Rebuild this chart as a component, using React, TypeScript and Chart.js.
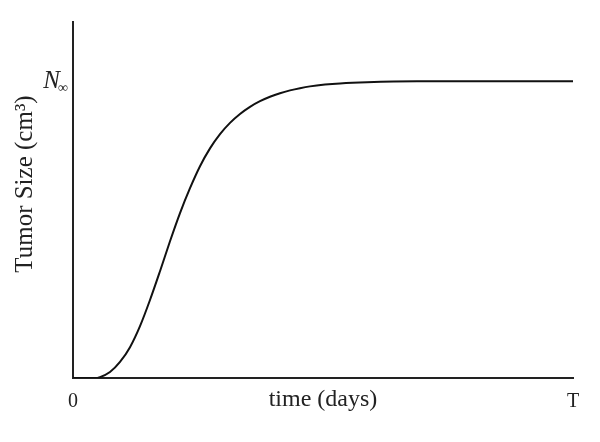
import React, { useEffect, useRef } from "react";
import { Chart, registerables } from "chart.js";

Chart.register(...registerables);

// time as percent of T (0..100), size relative to N∞ (0..1)
const timeValues = [0, 4.4, 5.4, 7.4, 9.4, 11.4, 13.4, 15.4, 17.4, 19.4, 21.4, 23.4, 25.4, 27.4, 29.4, 31.4, 33.4, 35.4, 37.4, 39.4, 41.4, 43.4, 45.4, 47.4, 50.4, 53.4, 58.8, 68.8, 80, 100];
const sizeValues = [0, 0, 0.003, 0.02, 0.054, 0.104, 0.175, 0.263, 0.36, 0.461, 0.556, 0.64, 0.714, 0.774, 0.822, 0.86, 0.89, 0.914, 0.933, 0.948, 0.96, 0.9695, 0.977, 0.983, 0.989, 0.993, 0.997, 1.0, 1.0, 1.0];
const xTickValues = [0, 100];
const xTickLabels = ["0", "T"];
const yTickValues = [1];
const yTickLabels = ["N"];
const xTitle = "time (days)";
const yTitle = "Tumor Size (cm³)";
const subscriptText = "∞";

const SERIF = "'Liberation Serif', 'Times New Roman', Times, serif";

const textPlugin = {
  id: "textPlugin",
  afterDraw(chart: any) {
    const ys = chart.scales.y;
    const ctx = chart.ctx;
    const py = ys.getPixelForValue(yTickValues[0]);
    ctx.save();
    ctx.font = `14px ${SERIF}`;
    ctx.fillStyle = "#222";
    ctx.textAlign = "left";
    ctx.textBaseline = "alphabetic";
    ctx.fillText(subscriptText, ys.right - 15, py + 11);
    ctx.restore();

    // y-axis title, rotated
    ctx.save();
    ctx.translate(25, 184);
    ctx.rotate(-Math.PI / 2);
    ctx.font = `25px ${SERIF}`;
    ctx.fillStyle = "#222";
    ctx.textAlign = "center";
    ctx.textBaseline = "middle";
    ctx.fillText(yTitle, 0, 0);
    ctx.restore();
  },
};

export default function App() {
  const ref = useRef<HTMLCanvasElement | null>(null);
  useEffect(() => {
    if (!ref.current) return;
    const chart = new Chart(ref.current, {
      type: "line",
      data: {
        datasets: [
          {
            data: timeValues.map((t, i) => ({ x: t, y: sizeValues[i] })),
            borderColor: "#111",
            borderWidth: 2,
            pointRadius: 0,
            fill: false,
            cubicInterpolationMode: "monotone",
          },
        ],
      },
      options: {
        animation: false,
        responsive: false,
        maintainAspectRatio: false,
        layout: { padding: { top: 22, right: 27, left: 0, bottom: 0 } },
        plugins: { legend: { display: false }, tooltip: { enabled: false } },
        scales: {
          x: {
            type: "linear",
            min: 0,
            max: 100,
            afterFit: (s: any) => {
              s.height = 64;
              s.paddingLeft = 0;
              s.paddingRight = 0;
            },
            afterBuildTicks: (s: any) => {
              s.ticks = xTickValues.map((v) => ({ value: v }));
            },
            ticks: {
              autoSkip: false,
              maxRotation: 0,
              padding: 12,
              color: "#222",
              font: { family: SERIF, size: 20 },
              callback: (v: any) => {
                const i = xTickValues.indexOf(Number(v));
                return i >= 0 ? xTickLabels[i] : "";
              },
            },
            grid: { display: true, drawOnChartArea: false, drawTicks: false },
            border: { display: true, color: "#222", width: 2 },
            title: {
              display: true,
              text: xTitle,
              color: "#222",
              font: { family: SERIF, size: 24 },
              padding: { top: 0, bottom: 28 },
            },
          },
          y: {
            type: "linear",
            min: 0,
            max: 1.2,
            afterFit: (s: any) => {
              s.width = 73;
              s.paddingTop = 0;
              s.paddingBottom = 0;
            },
            afterBuildTicks: (s: any) => {
              s.ticks = yTickValues.map((v) => ({ value: v }));
            },
            ticks: {
              autoSkip: false,
              padding: 13,
              color: "#222",
              font: { family: SERIF, size: 25, style: "italic" },
              callback: (v: any) => {
                const i = yTickValues.indexOf(Number(v));
                return i >= 0 ? yTickLabels[i] : "";
              },
            },
            grid: { display: true, drawOnChartArea: false, drawTicks: false },
            border: { display: true, color: "#222", width: 2 },
            title: { display: false },
          },
        },
      },
      plugins: [textPlugin],
    } as any);
    return () => chart.destroy();
  }, []);
  return (
    <div style={{ position: "fixed", left: 0, top: 0, width: 600, height: 442, background: "#fff" }}>
      <canvas ref={ref} width={600} height={442} style={{ width: 600, height: 442, display: "block" }} />
    </div>
  );
}
